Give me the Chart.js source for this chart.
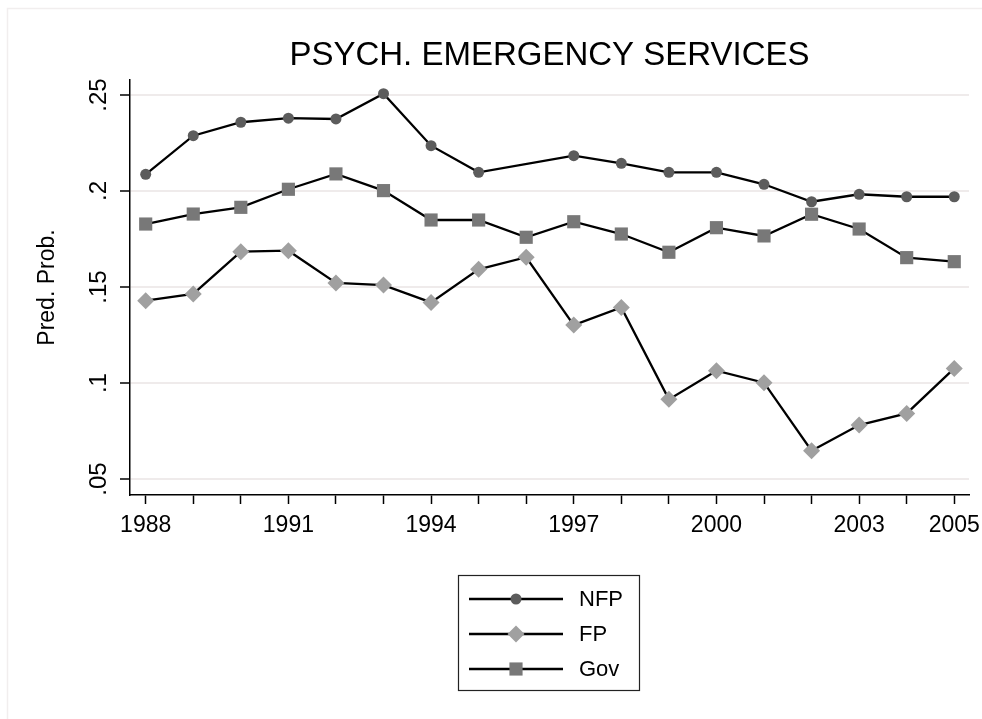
<!DOCTYPE html>
<html>
<head>
<meta charset="utf-8">
<title>PSYCH. EMERGENCY SERVICES</title>
<script src="https://cdn.jsdelivr.net/npm/chart.js@4.4.1/dist/chart.umd.min.js"></script>
<style>
    body { margin: 0; background: #fff; }
    #wrap { width: 982px; height: 719px; }
</style>
</head>
<body>
<div id="wrap"><canvas id="chart" width="982" height="719"></canvas></div>
<script>
    // data
    const years = [1988, 1989, 1990, 1991, 1992, 1993, 1994, 1995, 1996,
                   1997, 1998, 1999, 2000, 2001, 2002, 2003, 2004, 2005];
    const nfp = [0.2087, 0.2288, 0.2358, 0.2379, 0.2375, 0.2507, 0.2236, 0.2097, null,
                 0.2184, 0.2144, 0.2097, 0.2097, 0.2035, 0.1944, 0.1983, 0.1970, 0.1970];
    const fp  = [0.1429, 0.1464, 0.1684, 0.1689, 0.1521, 0.1510, 0.1420, 0.1592, 0.1655,
                 0.1302, 0.1394, 0.0915, 0.1064, 0.1002, 0.0648, 0.0781, 0.0842, 0.1076];
    const gov = [0.1828, 0.1880, 0.1915, 0.2009, 0.2089, 0.2002, 0.1849, 0.1849, 0.1759,
                 0.1840, 0.1776, 0.1681, 0.1809, 0.1766, 0.1879, 0.1802, 0.1653, 0.1632];
    const xTickLabels = [1988, 1991, 1994, 1997, 2000, 2003, 2005];
    const yTicks = [0.05, 0.1, 0.15, 0.2, 0.25];
    const yTickLabels = ['.05', '.1', '.15', '.2', '.25'];

    const FONT = "'Liberation Sans', Arial, sans-serif";

    function pairs(values) {
        return years.map((y, i) => ({ x: y, y: values[i] }));
    }

    // faint outer frame + white background
    const framePlugin = {
        id: 'frame',
        beforeDraw(chart) {
            const ctx = chart.ctx;
            ctx.save();
            ctx.fillStyle = '#fff';
            ctx.fillRect(0, 0, chart.width, chart.height);
            ctx.strokeStyle = '#f1eeee';
            ctx.lineWidth = 1.5;
            ctx.beginPath();
            ctx.moveTo(7.5, chart.height);
            ctx.lineTo(7.5, 8.5);
            ctx.lineTo(chart.width, 8.5);
            ctx.stroke();
            ctx.restore();
        }
    };

    // legend in a box: line - marker - line, then the label
    const boxLegend = {
        id: 'boxLegend',
        afterDraw(chart) {
            const ctx = chart.ctx;
            const left = 458, top = 575, w = 181, h = 115;
            const rows = [599, 634, 669];
            ctx.save();
            ctx.strokeStyle = '#222';
            ctx.lineWidth = 1.2;
            ctx.strokeRect(left + 0.5, top + 0.5, w, h);
            chart.data.datasets.forEach((ds, i) => {
                const y = rows[i];
                ctx.strokeStyle = ds.borderColor;
                ctx.lineWidth = ds.borderWidth;
                ctx.beginPath();
                ctx.moveTo(469, y);
                ctx.lineTo(563, y);
                ctx.stroke();
                const cx = 516, r = ds.pointRadius;
                ctx.fillStyle = ds.pointBackgroundColor;
                ctx.beginPath();
                if (ds.pointStyle === 'circle') {
                    ctx.arc(cx, y, r, 0, Math.PI * 2);
                } else if (ds.pointStyle === 'rectRot') {
                    ctx.moveTo(cx, y - r);
                    ctx.lineTo(cx + r, y);
                    ctx.lineTo(cx, y + r);
                    ctx.lineTo(cx - r, y);
                    ctx.closePath();
                } else {
                    const s = r * Math.SQRT1_2;
                    ctx.rect(cx - s, y - s, 2 * s, 2 * s);
                }
                ctx.fill();
                ctx.fillStyle = '#000';
                ctx.font = '22px ' + FONT;
                ctx.textAlign = 'left';
                ctx.textBaseline = 'middle';
                ctx.fillText(ds.label, 579, y + 1);
            });
            ctx.restore();
        }
    };

    const ctx = document.getElementById('chart').getContext('2d');
    const chart = new Chart(ctx, {
        type: 'line',
        data: {
            datasets: [{
                label: 'NFP',
                data: pairs(nfp),
                borderColor: '#000',
                borderWidth: 2.3,
                pointStyle: 'circle',
                pointRadius: 5.5,
                pointBackgroundColor: '#5c5c5c',
                pointBorderColor: '#5c5c5c',
                pointBorderWidth: 0,
                spanGaps: true
            }, {
                label: 'FP',
                data: pairs(fp),
                borderColor: '#000',
                borderWidth: 2.3,
                pointStyle: 'rectRot',
                pointRadius: 8.5,
                pointBackgroundColor: '#a0a0a0',
                pointBorderColor: '#a0a0a0',
                pointBorderWidth: 0
            }, {
                label: 'Gov',
                data: pairs(gov),
                borderColor: '#000',
                borderWidth: 2.3,
                pointStyle: 'rect',
                pointRadius: 9.3,
                pointBackgroundColor: '#787878',
                pointBorderColor: '#787878',
                pointBorderWidth: 0
            }]
        },
        options: {
            responsive: false,
            animation: false,
            tension: 0,
            layout: { padding: { top: 0, right: 13, bottom: 0, left: 0 } },
            plugins: {
                legend: { display: false },
                tooltip: { enabled: false },
                title: {
                    display: true,
                    fullSize: false,
                    text: 'PSYCH. EMERGENCY SERVICES',
                    color: '#000',
                    font: { family: FONT, size: 33, weight: 'normal', lineHeight: 1.2 },
                    padding: { top: 36.5, bottom: 3.9 }
                }
            },
            scales: {
                x: {
                    type: 'linear',
                    min: 1987.67,
                    max: 2005.31,
                    afterBuildTicks(scale) {
                        scale.ticks = years.map(v => ({ value: v }));
                    },
                    afterFit(scale) {
                        scale.height = 224;
                        scale.paddingLeft = 0;
                        scale.paddingRight = 0;
                    },
                    ticks: {
                        autoSkip: false,
                        maxRotation: 0,
                        minRotation: 0,
                        padding: 8,
                        color: '#000',
                        font: { family: FONT, size: 23 },
                        callback: v => xTickLabels.includes(v) ? String(v) : ''
                    },
                    grid: {
                        drawOnChartArea: false,
                        drawTicks: true,
                        tickLength: 9,
                        tickColor: '#000',
                        tickWidth: 1.5
                    },
                    border: { display: true, color: '#000', width: 1.5 }
                },
                y: {
                    min: 0.0417,
                    max: 0.2578,
                    afterBuildTicks(scale) {
                        scale.ticks = yTicks.map(v => ({ value: v }));
                    },
                    afterFit(scale) {
                        scale.width = 130;
                        scale.paddingTop = 0;
                        scale.paddingBottom = 0;
                    },
                    ticks: {
                        minRotation: 90,
                        maxRotation: 90,
                        crossAlign: 'center',
                        padding: 4,
                        color: '#000',
                        font: { family: FONT, size: 24 },
                        callback: v => {
                            const i = yTicks.findIndex(t => Math.abs(t - v) < 1e-9);
                            return i >= 0 ? yTickLabels[i] : '';
                        }
                    },
                    grid: {
                        color: '#efebeb',
                        lineWidth: 2,
                        drawTicks: true,
                        tickLength: 10,
                        tickColor: '#000',
                        tickWidth: 1.5
                    },
                    border: { display: true, color: '#000', width: 1.5 },
                    title: {
                        display: true,
                        text: 'Pred. Prob.',
                        color: '#000',
                        font: { family: FONT, size: 23, lineHeight: 1.2 },
                        padding: { top: 34, bottom: 0 }
                    }
                }
            }
        },
        plugins: [framePlugin, boxLegend]
    });
</script>
</body>
</html>
